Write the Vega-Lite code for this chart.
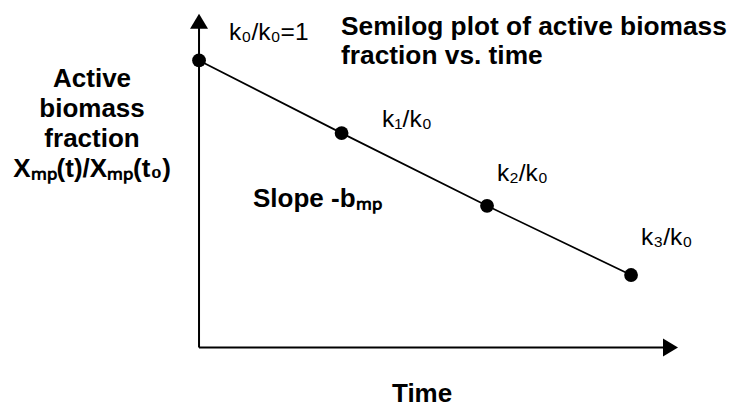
{
  "$schema": "https://vega.github.io/schema/vega-lite/v6.json",
  "width": 731,
  "height": 408,
  "autosize": {"type": "fit", "contains": "padding"},
  "padding": 0,
  "background": "white",
  "config": {
    "view": {"stroke": null},
    "text": {"font": "Liberation Sans", "color": "black"}
  },
  "data": {"values": [{}]},
  "datasets": {
    "points": [
      {"time": 0, "logFraction": 0},
      {"time": 0.99, "logFraction": -1.02},
      {"time": 2.0, "logFraction": -2.04},
      {"time": 3.0, "logFraction": -3.01}
    ],
    "pointLabels": [
      {"time": 0.208, "logFraction": 0.292, "text": "k₀/k₀=1"},
      {"time": 1.271, "logFraction": -0.931, "text": "k₁/k₀"},
      {"time": 2.069, "logFraction": -1.694, "text": "k₂/k₀"},
      {"time": 3.069, "logFraction": -2.583, "text": "k₃/k₀"}
    ]
  },
  "layer": [
    {
      "mark": {"type": "rule", "color": "black", "strokeWidth": 2},
      "encoding": {
        "x": {"datum": 0, "type": "quantitative", "scale": {"domain": [-1.382, 3.694], "nice": false, "zero": false}, "axis": null},
        "y": {"datum": -4.028, "type": "quantitative", "scale": {"domain": [-4.819, 0.847], "nice": false, "zero": false}, "axis": null},
        "y2": {"datum": 0.6}
      }
    },
    {
      "mark": {"type": "rule", "color": "black", "strokeWidth": 2},
      "encoding": {
        "x": {"datum": 0, "type": "quantitative", "scale": {"domain": [-1.382, 3.694], "nice": false, "zero": false}, "axis": null},
        "x2": {"datum": 3.28},
        "y": {"datum": -4.028, "type": "quantitative", "scale": {"domain": [-4.819, 0.847], "nice": false, "zero": false}, "axis": null}
      }
    },
    {
      "mark": {"type": "point", "shape": "M0,0L0.6,1L-0.6,1Z", "size": 900, "filled": true, "color": "black", "opacity": 1},
      "encoding": {
        "x": {"datum": 0, "type": "quantitative", "scale": {"domain": [-1.382, 3.694], "nice": false, "zero": false}, "axis": null},
        "y": {"datum": 0.653, "type": "quantitative", "scale": {"domain": [-4.819, 0.847], "nice": false, "zero": false}, "axis": null}
      }
    },
    {
      "mark": {"type": "point", "shape": "M0,0L-1,-0.6L-1,0.6Z", "size": 900, "filled": true, "color": "black", "opacity": 1},
      "encoding": {
        "x": {"datum": 3.326, "type": "quantitative", "scale": {"domain": [-1.382, 3.694], "nice": false, "zero": false}, "axis": null},
        "y": {"datum": -4.028, "type": "quantitative", "scale": {"domain": [-4.819, 0.847], "nice": false, "zero": false}, "axis": null}
      }
    },
    {
      "data": {"name": "points"},
      "mark": {"type": "line", "color": "black", "strokeWidth": 1.7},
      "encoding": {
        "x": {"field": "time", "type": "quantitative", "scale": {"domain": [-1.382, 3.694], "nice": false, "zero": false}, "axis": null},
        "y": {"field": "logFraction", "type": "quantitative", "scale": {"domain": [-4.819, 0.847], "nice": false, "zero": false}, "axis": null}
      }
    },
    {
      "data": {"name": "points"},
      "mark": {"type": "point", "shape": "circle", "size": 190, "filled": true, "color": "black", "opacity": 1},
      "encoding": {
        "x": {"field": "time", "type": "quantitative", "scale": {"domain": [-1.382, 3.694], "nice": false, "zero": false}, "axis": null},
        "y": {"field": "logFraction", "type": "quantitative", "scale": {"domain": [-4.819, 0.847], "nice": false, "zero": false}, "axis": null}
      }
    },
    {
      "data": {"name": "pointLabels"},
      "mark": {"type": "text", "align": "left", "baseline": "alphabetic", "fontSize": 24.5},
      "encoding": {
        "x": {"field": "time", "type": "quantitative", "scale": {"domain": [-1.382, 3.694], "nice": false, "zero": false}, "axis": null},
        "y": {"field": "logFraction", "type": "quantitative", "scale": {"domain": [-4.819, 0.847], "nice": false, "zero": false}, "axis": null},
        "text": {"field": "text"}
      }
    },
    {
      "mark": {"type": "text", "align": "left", "baseline": "alphabetic", "fontSize": 26.3, "fontWeight": "bold", "lineHeight": 29, "lineBreak": "\n", "text": "Semilog plot of active biomass\nfraction vs. time"},
      "encoding": {
        "x": {"datum": 0.986, "type": "quantitative", "scale": {"domain": [-1.382, 3.694], "nice": false, "zero": false}, "axis": null},
        "y": {"datum": 0.361, "type": "quantitative", "scale": {"domain": [-4.819, 0.847], "nice": false, "zero": false}, "axis": null}
      }
    },
    {
      "mark": {"type": "text", "align": "left", "baseline": "alphabetic", "fontSize": 26, "fontWeight": "bold", "text": "Slope -bₘₚ"},
      "encoding": {
        "x": {"datum": 0.375, "type": "quantitative", "scale": {"domain": [-1.382, 3.694], "nice": false, "zero": false}, "axis": null},
        "y": {"datum": -2.056, "type": "quantitative", "scale": {"domain": [-4.819, 0.847], "nice": false, "zero": false}, "axis": null}
      }
    },
    {
      "mark": {"type": "text", "align": "center", "baseline": "alphabetic", "fontSize": 26, "fontWeight": "bold", "text": "Time"},
      "encoding": {
        "x": {"datum": 1.549, "type": "quantitative", "scale": {"domain": [-1.382, 3.694], "nice": false, "zero": false}, "axis": null},
        "y": {"datum": -4.792, "type": "quantitative", "scale": {"domain": [-4.819, 0.847], "nice": false, "zero": false}, "axis": null}
      }
    },
    {
      "mark": {"type": "text", "align": "center", "baseline": "alphabetic", "fontSize": 26, "fontWeight": "bold", "lineHeight": 30, "lineBreak": "\n", "text": "Active\nbiomass\nfraction\nXₘₚ(t)/Xₘₚ(t₀)"},
      "encoding": {
        "x": {"datum": -0.743, "type": "quantitative", "scale": {"domain": [-1.382, 3.694], "nice": false, "zero": false}, "axis": null},
        "y": {"datum": -0.375, "type": "quantitative", "scale": {"domain": [-4.819, 0.847], "nice": false, "zero": false}, "axis": null}
      }
    }
  ]
}
